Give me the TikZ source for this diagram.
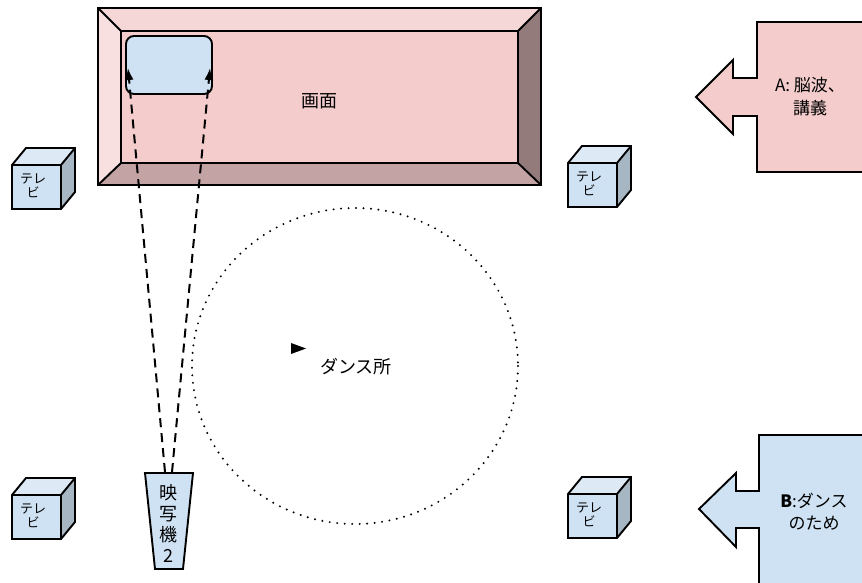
\documentclass[tikz,border=0pt]{standalone}
\usepackage{fontspec}
\setmainfont{Noto Sans CJK JP}
\usetikzlibrary{arrows.meta}
\definecolor{pinkc}{HTML}{F4CCCC}
\definecolor{pinktop}{HTML}{F6D7D8}
\definecolor{pinkleft}{HTML}{F8E0E1}
\definecolor{pinkbot}{HTML}{C3A3A4}
\definecolor{pinkright}{HTML}{937B7B}
\definecolor{bluec}{HTML}{CFE2F3}
\definecolor{bluetop}{HTML}{DDE9F5}
\definecolor{blueside}{HTML}{A7B6C3}
\tikzset{
  outl/.style={draw=black, line width=1.9pt, line join=miter},
  proj/.style={draw=black, line width=2pt, dash pattern=on 9pt off 6pt, -{Latex[length=12pt,width=9pt]}},
  lbl/.style={inner sep=0pt, align=center},
  tvtext/.style={lbl, font=\fontsize{13}{14}\selectfont},
}
\newcommand\tvbox[3]{% name, x0, y0 (front top-left)
  \fill[bluetop] (#2,#3) -- ++(14,-17) -- ++(49,0) -- ++(-14,17) -- cycle;
  \fill[blueside] (#2+49,#3) -- ++(14,-17) -- ++(0,44) -- ++(-14,17) -- cycle;
  \fill[bluec] (#2,#3) rectangle ++(49,44);
  \draw[outl] (#2,#3) -- ++(14,-17) -- ++(49,0) -- ++(0,44) -- ++(-14,17) -- ++(-49,0) -- cycle;
  \draw[outl] (#2,#3) -- ++(49,0) -- ++(14,-17) (#2+49,#3) -- ++(0,44);
  \node[tvtext] (#1) at (#2+21,#3+21) {テレ\\ビ};
}
\begin{document}
\begin{tikzpicture}[x=1pt,y=-1pt]
\useasboundingbox (0,0) rectangle (862,582);
\clip (0,0) rectangle (862,582);
% screen
\fill[pinkc] (98,8) rectangle (541,185);
\fill[pinktop] (98,8) -- (541,8) -- (518,31) -- (121,31) -- cycle;
\fill[pinkleft] (98,8) -- (121,31) -- (121,163) -- (98,185) -- cycle;
\fill[pinkbot] (98,185) -- (121,163) -- (518,163) -- (541,185) -- cycle;
\fill[pinkright] (541,8) -- (518,31) -- (518,163) -- (541,185) -- cycle;
\draw[outl] (98,8) rectangle (541,185);
\draw[outl] (121,31) rectangle (518,163);
\draw[outl] (98,8) -- (121,31) (541,8) -- (518,31) (98,185) -- (121,163) (541,185) -- (518,163);
\node[lbl, font=\fontsize{18}{20}\selectfont] (screen) at (319,101) {画面};
% projected image
\node[draw=black, line width=1.9pt, fill=bluec, rounded corners=8pt, minimum width=86pt, minimum height=58pt, inner sep=0pt] (img) at (169,65) {};
\coordinate (tl) at (128,68);
\coordinate (tr) at (210,68);
% TVs
\tvbox{tv1}{12}{165}
\tvbox{tv2}{568}{163}
\tvbox{tv3}{12}{495}
\tvbox{tv4}{568}{494}
% projector
\draw[outl, fill=bluec] (145,473) -- (193,473) -- (183,569) -- (155,569) -- cycle;
\coordinate (pl) at (165,472);
\coordinate (pr) at (172,472);
\node[lbl, font=\fontsize{18}{21}\selectfont] (projtext) at (168,523) {映\\写\\機\\2};
\draw[proj] (pl) -- (tl);
\draw[proj] (pr) -- (tr);
% dance area
\draw[black, line width=2.2pt, dash pattern=on 0pt off 7.5pt, line cap=round] (355,366) ellipse (163 and 158);
\fill[black] (291,343) -- (306,348.5) -- (291,354) -- cycle;
\node[lbl, font=\fontsize{18}{20}\selectfont] (dance) at (356,367) {ダンス所};
% block arrow A
\draw[outl, fill=pinkc] (757,22) -- (880,22) -- (880,172) -- (757,172) -- (757,116) -- (733,116) -- (733,134) -- (696,97) -- (733,60) -- (733,78) -- (757,78) -- cycle;
\node[lbl, font=\fontsize{17}{23}\selectfont] (atext) at (810,97) {A: 脳波、\\講義};
% block arrow B
\draw[outl, fill=bluec] (759,435) -- (880,435) -- (880,600) -- (759,600) -- (759,528) -- (736,528) -- (736,547) -- (699,509) -- (736,473) -- (736,491) -- (759,491) -- cycle;
\node[lbl, font=\fontsize{17}{22}\selectfont] (btext) at (814,512) {\textbf{B}:ダンス\\のため};
\end{tikzpicture}
\end{document}
